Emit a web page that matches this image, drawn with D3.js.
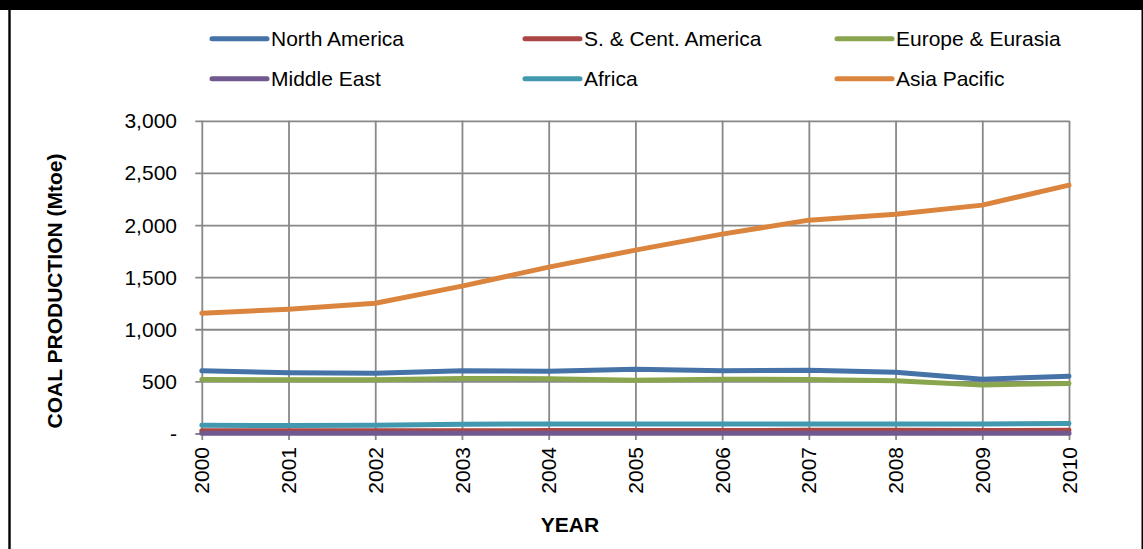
<!DOCTYPE html>
<html>
<head>
<meta charset="utf-8">
<script src="https://cdn.jsdelivr.net/npm/d3@7"></script>
<style>
  html, body { margin: 0; padding: 0; background: #fff; }
  svg { display: block; }
  text { font-family: "Liberation Sans", Arial, sans-serif; fill: #000; }
</style>
</head>
<body>
<svg id="chart" width="1143" height="549"></svg>
<script>
const years = [2000, 2001, 2002, 2003, 2004, 2005, 2006, 2007, 2008, 2009, 2010];
const yTicks = [0, 500, 1000, 1500, 2000, 2500, 3000];

const seriesNames = ["North America", "S. & Cent. America", "Europe & Eurasia", "Middle East", "Africa", "Asia Pacific"];
const seriesColors = ["#4572A7", "#AA4643", "#89A54E", "#71588F", "#4198AF", "#DB843D"];

const northAmerica   = [601, 583, 579, 603, 598, 617, 603, 608, 588, 521, 550];
const sCentAmerica   = [26, 26, 26, 27, 28, 28, 29, 30, 30, 29, 30];
const europeEurasia  = [518, 516, 516, 528, 526, 511, 521, 518, 505, 466, 480];
const middleEast     = [2, 2, 2, 2, 2, 2, 2, 2, 2, 2, 2];
const africa         = [79, 77, 80, 88, 92, 92, 92, 92, 92, 92, 95];
const asiaPacific    = [1154, 1193, 1250, 1414, 1596, 1759, 1913, 2047, 2104, 2191, 2383];

const seriesValues = [northAmerica, sCentAmerica, europeEurasia, middleEast, africa, asiaPacific];

const svg = d3.select("#chart");
const W = 1143, H = 549;
const FS = 21;

// frame
svg.append("rect").attr("x", 0).attr("y", 0).attr("width", W).attr("height", 10).attr("fill", "#000");
svg.append("rect").attr("x", 8.3).attr("y", 0).attr("width", 2.4).attr("height", H).attr("fill", "#000");
svg.append("rect").attr("x", 1141.5).attr("y", 0).attr("width", 1.5).attr("height", H).attr("fill", "#000");

const x = d3.scaleLinear().domain([2000, 2010]).range([201.8, 1069]);
const y = d3.scaleLinear().domain([0, 3000]).range([433.5, 120.8]);

const gridColor = "#888888";

// horizontal gridlines with tick marks (via axis)
const yAxis = d3.axisLeft(y).tickValues(yTicks)
  .tickSize(-(1069 - 201.8))
  .tickPadding(0)
  .tickFormat(() => "");
const gy = svg.append("g").attr("transform", `translate(201.8,0)`).call(yAxis);
gy.select(".domain").remove();
gy.selectAll(".tick line").attr("x1", -6.5).attr("stroke", gridColor).attr("stroke-width", 1.8);

// y tick labels
svg.append("g").selectAll("text").data(yTicks).join("text")
  .attr("x", 177)
  .attr("y", d => y(d))
  .attr("dy", "0.36em")
  .attr("text-anchor", "end")
  .style("font-size", FS + "px")
  .text(d => d === 0 ? "-" : d3.format(",")(d));

// vertical gridlines
const xAxis = d3.axisBottom(x).tickValues(years).tickSize(0).tickFormat(() => "");
const gx = svg.append("g").attr("transform", `translate(0,433.5)`).call(xAxis);
gx.select(".domain").remove();
gx.selectAll(".tick line")
  .attr("y1", 6.5)
  .attr("y2", -(433.5 - 120.8))
  .attr("stroke", gridColor).attr("stroke-width", 1.8);

// x tick labels rotated
svg.append("g").selectAll("text").data(years).join("text")
  .attr("transform", d => `translate(${x(d)},447) rotate(-90)`)
  .attr("dy", "0.36em")
  .attr("text-anchor", "end")
  .style("font-size", FS + "px")
  .text(d => d);

// series lines
const line = d3.line().x((d, i) => x(years[i])).y(d => y(d));
svg.append("g").selectAll("path").data(seriesValues).join("path")
  .attr("d", d => line(d))
  .attr("fill", "none")
  .attr("stroke", (d, i) => seriesColors[i])
  .attr("stroke-width", 5)
  .attr("stroke-linecap", "round")
  .attr("stroke-linejoin", "round");

// axis titles
svg.append("text")
  .attr("transform", "translate(62,291) rotate(-90)")
  .attr("text-anchor", "middle")
  .style("font-size", FS + "px")
  .style("font-weight", "bold")
  .text("COAL PRODUCTION (Mtoe)");

svg.append("text")
  .attr("x", 570).attr("y", 532)
  .attr("text-anchor", "middle")
  .style("font-size", FS + "px")
  .style("font-weight", "bold")
  .text("YEAR");

// legend
const legendCols = [212, 525, 837];
const legendRows = [38.8, 78.8];
const lg = svg.append("g").selectAll("g").data(seriesNames).join("g")
  .attr("transform", (d, i) => `translate(${legendCols[i % 3]},${legendRows[Math.floor(i / 3)]})`);
lg.append("line")
  .attr("x1", 0).attr("x2", 55).attr("y1", 0).attr("y2", 0)
  .attr("stroke", (d, i) => seriesColors[i])
  .attr("stroke-width", 5)
  .attr("stroke-linecap", "round");
lg.append("text")
  .attr("x", 59).attr("y", 0).attr("dy", "0.36em")
  .style("font-size", FS + "px")
  .text(d => d);
</script>
</body>
</html>
